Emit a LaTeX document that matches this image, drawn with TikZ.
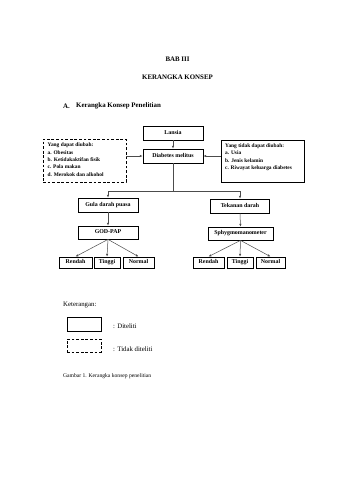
\documentclass[tikz,border=0pt]{standalone}
\usepackage{fontspec}
\setmainfont{Liberation Serif}
\usetikzlibrary{arrows.meta}
\begin{document}
\begin{tikzpicture}[x=1pt,y=-1pt,
  box/.style={draw=black,line width=0.8pt,rectangle,inner sep=0pt,align=center,
    text height=4pt,text depth=1.3pt,
    font=\fontsize{5.9}{6.5}\selectfont\bfseries},
  dbox/.style={draw=black,line width=0.8pt,dash pattern=on 2.8pt off 1.8pt,rectangle,inner sep=0pt},
  conn/.style={draw=black!70,line width=0.5pt},
  arr/.style={conn,-{Latex[length=2.8pt,width=2.4pt]}},
  ttl/.style={font=\fontsize{6.9}{8}\selectfont\bfseries,inner sep=0pt},
  lbl/.style={font=\fontsize{6.8}{8}\selectfont,inner sep=0pt,anchor=west},
  lst/.style={font=\fontsize{5.4}{7.3}\selectfont\bfseries,inner sep=0pt,anchor=north west,align=left}
]
\fill[white] (0,0) rectangle (339,480);
\useasboundingbox (0,0) rectangle (339,480);

% titles
\node[ttl] (bab) at (177.5,59) {BAB III};
\node[ttl] (kk) at (177.5,77) {KERANGKA KONSEP};
\node[ttl,anchor=west] (seca) at (63,106) {A.};
\node[ttl,anchor=west] (secb) at (76,106) {Kerangka Konsep Penelitian};

% top boxes
\node[box,minimum width=60pt,minimum height=14pt] (lansia) at (173,133) {Lansia};
\node[box,minimum width=60pt,minimum height=14pt] (dm) at (173,156) {Diabetes melitus};

\node[dbox,minimum width=83pt,minimum height=43pt] (left) at (84.5,160.5) {};
\node[lst] (lefttxt) at (47.5,143) {Yang dapat diubah:\\a. Obesitas\\b. Ketidakaktifan fisik\\c. Pola makan\\d. Merokok dan alkohol};

\node[box,minimum width=83pt,minimum height=42pt] (right) at (262.5,161) {};
\node[lst] (righttxt) at (225,143.5) {Yang tidak dapat diubah:\\a. Usia\\b. Jenis kelamin\\c. Riwayat keluarga diabetes};

\draw[arr] (lansia.south) -- (dm.north);
\draw[arr] (left.east |- dm.west) -- (dm.west);
\draw[arr] (right.west |- dm.east) -- (dm.east);

% branches
\coordinate (j0) at (173,191);
\coordinate (jl) at (108,191);
\coordinate (jr) at (240,191);
\node[box,minimum width=60pt,minimum height=14pt] (gula) at (108,205) {Gula darah puasa};
\node[box,minimum width=59pt,minimum height=14pt] (tek) at (240,206) {Tekanan darah};
\draw[conn] (dm.south) -- (j0);
\draw[conn] (jl) -- (jr);
\draw[arr] (jl) -- (gula.north);
\draw[arr] (jr) -- (tek.north);

\node[box,minimum width=60pt,minimum height=13pt] (god) at (108,232.5) {GOD-PAP};
\node[box,minimum width=65pt,minimum height=13pt] (sph) at (240.5,233.5) {Sphygmomanometer};
\draw[arr] (gula.south) -- (god.north);
\draw[arr] (tek.south) -- (sph.north);

% bottom boxes left
\node[box,minimum width=33pt,minimum height=11pt] (r1) at (75.5,262.5) {Rendah};
\node[box,minimum width=26pt,minimum height=11pt] (t1) at (107,262.5) {Tinggi};
\node[box,minimum width=31pt,minimum height=11pt] (n1) at (138.5,262.5) {Normal};
\draw[arr] (god.south) -- (r1.north);
\draw[arr] (god.south) -- (t1.north);
\draw[arr] (god.south) -- (n1.north);

% bottom boxes right
\node[box,minimum width=31pt,minimum height=11pt] (r2) at (208.5,262.5) {Rendah};
\node[box,minimum width=26pt,minimum height=11pt] (t2) at (240,262.5) {Tinggi};
\node[box,minimum width=29pt,minimum height=11pt] (n2) at (270.5,262.5) {Normal};
\draw[arr] (sph.south) -- (r2.north);
\draw[arr] (sph.south) -- (t2.north);
\draw[arr] (sph.south) -- (n2.north);

% legend
\node[lbl] (ket) at (63,305) {Keterangan:};
\node[draw=black,line width=0.8pt,minimum width=34pt,minimum height=14pt,inner sep=0pt] (ls) at (84,324) {};
\node[lbl] (lsl) at (113,326) {: Diteliti};
\node[dbox,minimum width=34pt,minimum height=13pt] (ld) at (84,345.5) {};
\node[lbl] (ldl) at (113,349) {: Tidak diteliti};
\node[inner sep=0pt,anchor=west,font=\fontsize{5.6}{7}\selectfont] (cap) at (63,376) {Gambar 1. Kerangka konsep penelitian};
\end{tikzpicture}
\end{document}
